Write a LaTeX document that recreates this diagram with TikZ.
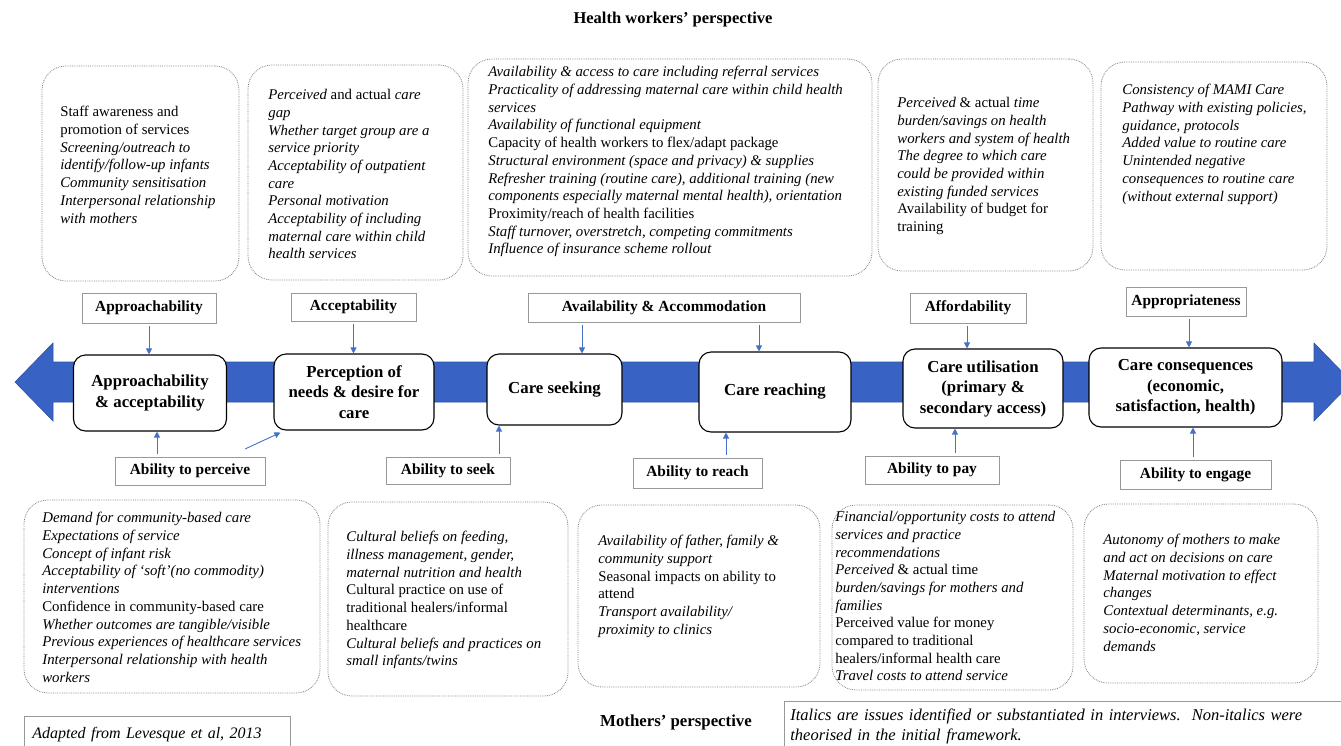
\documentclass[tikz,border=0pt]{standalone}
\usepackage{fontspec}
\setmainfont{Liberation Serif}
\usetikzlibrary{arrows.meta,positioning,calc}
\definecolor{arrowblue}{RGB}{68,114,196}
\definecolor{bandblue}{RGB}{56,99,196}
\definecolor{bandedge}{RGB}{47,82,160}
\tikzset{every picture/.style={line width=0.75pt}}

\begin{document}
\begin{tikzpicture}[x=1pt,y=-1pt,
  dotbox/.style={draw=gray, densely dotted, line width=0.8pt, rounded corners=24pt, inner sep=0pt},
  itemtext/.style={anchor=north west, align=left, inner sep=0pt, font=\fontsize{14.8}{17.7}\selectfont},
  stagebox/.style={draw, line width=1.1pt, fill=white, rounded corners=12pt, align=center, inner sep=2pt, font=\bfseries\fontsize{16.8}{20.5}\selectfont},
  factorbox/.style={draw=gray!80, line width=0.8pt, fill=white, inner sep=0pt, font=\bfseries\fontsize{15.4}{18}\selectfont},
  bluearr/.style={draw=arrowblue, line width=0.9pt, -{Triangle[length=6pt,width=6pt]}, shorten <=3pt}]
\useasboundingbox (0,0) rectangle (1341,745);

%Tieu de
\node[font=\bfseries\fontsize{16.5}{19}\selectfont] (hwtitle) at (673,20) {Health workers' perspective};

%Khung tren
\node[dotbox, minimum width=197, minimum height=215] (hwa) at (140.5,173.5) {};
\node[itemtext] (hwatext) at (60,106) {Staff awareness and\\ promotion of services\\ \textit{Screening/outreach to}\\ \textit{identify/follow-up infants}\\ \textit{Community sensitisation}\\ \textit{Interpersonal relationship}\\ \textit{with mothers}};
\node[dotbox, minimum width=215, minimum height=215] (hwb) at (355.5,172.5) {};
\node[itemtext] (hwbtext) at (268,89) {\textit{Perceived} and actual \textit{care}\\ \textit{gap}\\ \textit{Whether target group are a}\\ \textit{service priority}\\ \textit{Acceptability of outpatient}\\ \textit{care}\\ \textit{Personal motivation}\\ \textit{Acceptability of including}\\ \textit{maternal care within child}\\ \textit{health services}};
\node[dotbox, minimum width=404, minimum height=217] (hwc) at (670,167.5) {};
\node[itemtext] (hwctext) at (488,66) {\textit{Availability \& access to care including referral services}\\ \textit{Practicality of addressing maternal care within child health}\\ \textit{services}\\ \textit{Availability of functional equipment}\\ Capacity of health workers to flex/adapt package\\ \textit{Structural environment (space and privacy) \& supplies}\\ \textit{Refresher training (routine care), additional training (new}\\ \textit{components especially maternal mental health), orientation}\\ Proximity/reach of health facilities\\ \textit{Staff turnover, overstretch, competing commitments}\\ \textit{Influence of insurance scheme rollout}};
\node[dotbox, minimum width=215, minimum height=212] (hwd) at (985.5,165) {};
\node[itemtext] (hwdtext) at (897,97) {\textit{Perceived} \& actual \textit{time}\\ \textit{burden/savings on health}\\ \textit{workers and system of health}\\ \textit{The degree to which care}\\ \textit{could be provided within}\\ \textit{existing funded services}\\ Availability of budget for\\ training};
\node[dotbox, minimum width=226, minimum height=208] (hwe) at (1214,166) {};
\node[itemtext] (hwetext) at (1122,84) {\textit{Consistency of MAMI Care}\\ \textit{Pathway with existing policies,}\\ \textit{guidance, protocols}\\ \textit{Added value to routine care}\\ \textit{Unintended negative}\\ \textit{consequences to routine care}\\ \textit{(without external support)}};

%Mui ten lon
\fill[bandblue, draw=bandedge, line width=0.6pt] (15,382) -- (53,343) -- (53,362) -- (1314,362) -- (1314,343) -- (1352,382) -- (1314,421) -- (1314,402) -- (53,402) -- (53,421) -- cycle;

%Cac buoc
\node[stagebox, minimum width=153, minimum height=76] (appr) at (150,393) {Approachability\\ \& acceptability};
\node[stagebox, minimum width=160, minimum height=76] (perc) at (354,392) {Perception of\\ needs \& desire for\\ care};
\node[stagebox, minimum width=135, minimum height=71] (seek) at (554.5,389.5) {Care seeking};
\node[stagebox, minimum width=152, minimum height=80] (reach) at (775,392) {Care reaching};
\node[stagebox, minimum width=160, minimum height=79] (util) at (983,388.5) {Care utilisation\\ (primary \&\\ secondary access)};
\node[stagebox, minimum width=193, minimum height=79] (cons) at (1185.5,387.5) {Care consequences\\ (economic,\\ satisfaction, health)};

%Khung phia tren
\node[factorbox, minimum width=134, minimum height=30] (fappr) at (149,308) {Approachability};
\node[factorbox, minimum width=125, minimum height=28] (faccept) at (353.5,307) {Acceptability};
\node[factorbox, minimum width=272, minimum height=29] (favail) at (664,307.5) {Availability \& Accommodation};
\node[factorbox, minimum width=116, minimum height=30] (fafford) at (968,308) {Affordability};
\node[factorbox, minimum width=120, minimum height=29] (fappro) at (1186,301.5) {Appropriateness};

%Khung phia duoi
\node[factorbox, minimum width=150, minimum height=28] (fperc) at (190,471) {Ability to perceive};
\node[factorbox, minimum width=124, minimum height=27] (fseek) at (448,470.5) {Ability to seek};
\node[factorbox, minimum width=129, minimum height=30] (freach) at (697.5,473) {Ability to reach};
\node[factorbox, minimum width=134, minimum height=28] (fpay) at (932,470) {Ability to pay};
\node[factorbox, minimum width=151, minimum height=29] (fengage) at (1195.5,474.5) {Ability to engage};

%Mui ten xuong
\draw[bluearr] (fappr.south) -- (fappr.south |- appr.north);
\draw[bluearr] (faccept.south) -- (faccept.south |- perc.north);
\draw[bluearr] (favail.south -| 582,0) -- (seek.north -| 582,0);
\draw[bluearr] (favail.south -| 759,0) -- (reach.north -| 759,0);
\draw[bluearr] (fafford.south -| 967,0) -- (util.north -| 967,0);
\draw[bluearr] (fappro.south -| 1189,0) -- (cons.north -| 1189,0);

%Mui ten len
\coordinate (percfrom) at (245,449);
\draw[bluearr] (fperc.north -| 157,0) -- (appr.south -| 157,0);
\draw[bluearr, shorten <=0pt] (percfrom) -- ([xshift=7pt,yshift=-2pt]perc.south west);
\draw[bluearr] (fseek.north -| 499,0) -- (seek.south -| 499,0);
\draw[bluearr] (freach.north -| 726,0) -- (reach.south -| 726,0);
\draw[bluearr] (fpay.north -| 955,0) -- (util.south -| 955,0);
\draw[bluearr] (fengage.north -| 1193,0) -- (cons.south -| 1193,0);

%Khung duoi
\node[dotbox, minimum width=296, minimum height=193] (ma) at (172,596.5) {};
\node[itemtext] (matext) at (42,512) {\textit{Demand for community-based care}\\ \textit{Expectations of service}\\ \textit{Concept of infant risk}\\ \textit{Acceptability of `soft'(no commodity)}\\ \textit{interventions}\\ Confidence in community-based care\\ \textit{Whether outcomes are tangible/visible}\\ \textit{Previous experiences of healthcare services}\\ \textit{Interpersonal relationship with health}\\ \textit{workers}};
\node[dotbox, minimum width=240, minimum height=194] (mb) at (448,599) {};
\node[itemtext] (mbtext) at (346,531) {\textit{Cultural beliefs on feeding,}\\ \textit{illness management, gender,}\\ \textit{maternal nutrition and health}\\ Cultural practice on use of\\ traditional healers/informal\\ healthcare\\ \textit{Cultural beliefs and practices on}\\ \textit{small infants/twins}};
\node[dotbox, minimum width=242, minimum height=182] (mc) at (699,596) {};
\node[itemtext] (mctext) at (598,535) {\textit{Availability of father, family \&}\\ \textit{community support}\\ Seasonal impacts on ability to\\ attend\\ \textit{Transport availability/}\\ \textit{proximity to clinics}};
\node[dotbox, minimum width=241, minimum height=185] (md) at (952.5,597.5) {};
\node[itemtext] (mdtext) at (835,511) {\textit{Financial/opportunity costs to attend}\\ \textit{services and practice}\\ \textit{recommendations}\\ \textit{Perceived} \& actual time\\ \textit{burden/savings for mothers and}\\ \textit{families}\\ Perceived value for money\\ compared to traditional\\ healers/informal health care\\ \textit{Travel costs to attend service}};
\node[dotbox, minimum width=234, minimum height=179] (me) at (1201,593.5) {};
\node[itemtext] (metext) at (1103,534) {\textit{Autonomy of mothers to make}\\ \textit{and act on decisions on care}\\ \textit{Maternal motivation to effect}\\ \textit{changes}\\ \textit{Contextual determinants, e.g.}\\ \textit{socio-economic, service}\\ \textit{demands}};

%Chu thich
\node[draw=gray!80, line width=0.8pt, anchor=north west, minimum width=266, minimum height=36, text width=250, inner xsep=8pt, align=left, font=\itshape\fontsize{16}{20}\selectfont] (source) at (24,716) {Adapted from Levesque et al, 2013};
\node[font=\bfseries\fontsize{16.8}{19}\selectfont] (mtitle) at (676,722) {Mothers' perspective};
\node[draw=gray!80, line width=0.8pt, anchor=north west, minimum height=50, text width=580, inner xsep=6pt, align=left, font=\itshape\fontsize{16.5}{20}\selectfont] (legend) at (784,701) {Italics are issues identified or substantiated in interviews.\ \ Non-italics were\\ theorised in the initial framework.};
\end{tikzpicture}
\end{document}
